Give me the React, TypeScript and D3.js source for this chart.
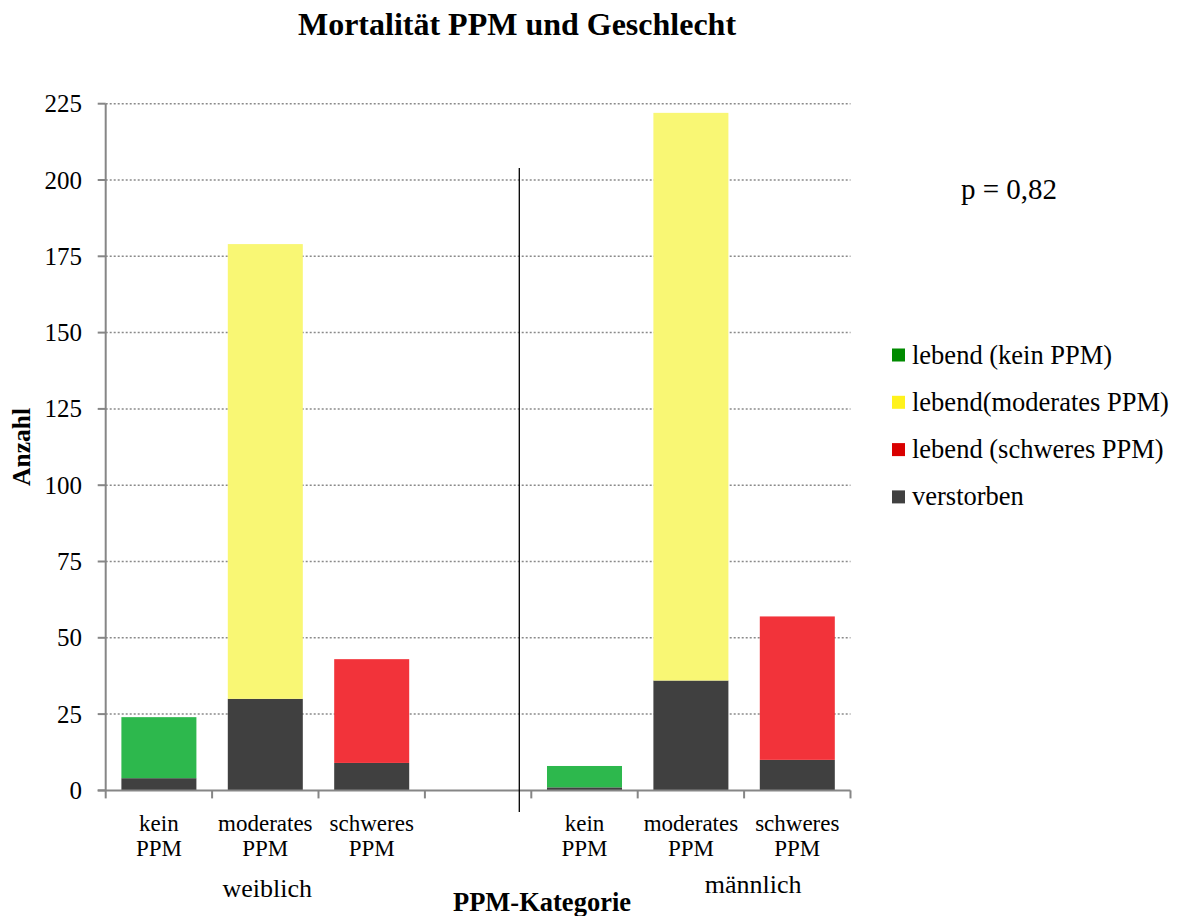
import React from 'react';
import * as d3 from 'd3';

// slots along the x axis (the 4th one is an empty spacer between the sexes)
const slots = ['w_kein', 'w_mod', 'w_schw', 'leer', 'm_kein', 'm_mod', 'm_schw'];
const slotLabels = [['kein', 'PPM'], ['moderates', 'PPM'], ['schweres', 'PPM'], [], ['kein', 'PPM'], ['moderates', 'PPM'], ['schweres', 'PPM']];

const verstorben = [4, 30, 9, 0, 1, 36, 10];
const lebendKein = [20, 0, 0, 0, 7, 0, 0];
const lebendModerat = [0, 149, 0, 0, 0, 186, 0];
const lebendSchwer = [0, 0, 34, 0, 0, 0, 47];

const seriesKeys = ['verstorben', 'lebendKein', 'lebendModerat', 'lebendSchwer'];
const barColors: Record<string, string> = {
  verstorben: '#404040',
  lebendKein: '#2DB84D',
  lebendModerat: '#F9F774',
  lebendSchwer: '#F2333A',
};

const legendItems = [
  { label: 'lebend (kein PPM)', color: '#008A00' },
  { label: 'lebend(moderates PPM)', color: '#FFF21C' },
  { label: 'lebend (schweres PPM)', color: '#D90000' },
  { label: 'verstorben', color: '#404040' },
];

const yTicks = [0, 25, 50, 75, 100, 125, 150, 175, 200, 225];

const FONT = '"Liberation Serif", "Times New Roman", serif';

export default function App() {
  const width = 1177;
  const height = 916;
  const plot = { left: 105.7, right: 850.5, top: 103.7, bottom: 790.4 };

  const x = d3.scaleBand<string>().domain(slots).range([plot.left, plot.right]).paddingInner(0.295).paddingOuter(0.1475);
  const y = d3.scaleLinear().domain([0, 225]).range([plot.bottom, plot.top]);
  const step = x.step();

  const table = slots.map((s, i) => ({
    slot: s,
    verstorben: verstorben[i],
    lebendKein: lebendKein[i],
    lebendModerat: lebendModerat[i],
    lebendSchwer: lebendSchwer[i],
  }));
  const stacked = d3.stack<any>().keys(seriesKeys)(table);

  const slotStart = (s: string) => (x(s) ?? 0) - (step - x.bandwidth()) / 2;
  const dividerX = slotStart('m_kein') - 12;

  return (
    <svg width={width} height={height} style={{ position: 'absolute', left: 0, top: 0, background: '#fff' }} fontFamily={FONT}>
      <text x={517} y={35} textAnchor="middle" fontSize={32} fontWeight="bold">Mortalität PPM und Geschlecht</text>

      {/* grid */}
      {yTicks.filter(t => t > 0).map(t => (
        <line key={t} x1={plot.left} x2={plot.right} y1={y(t)} y2={y(t)} stroke="#8a8a8a" strokeWidth={1.5} strokeDasharray="2,2" />
      ))}

      {/* bars */}
      {stacked.map(layer => (
        <g key={layer.key} fill={barColors[layer.key]}>
          {layer.map((d, i) => d[1] - d[0] > 0 ? (
            <rect key={i} x={x(slots[i])} width={x.bandwidth()} y={y(d[1])} height={y(d[0]) - y(d[1])} />
          ) : null)}
        </g>
      ))}

      {/* y axis */}
      <line x1={plot.left} x2={plot.left} y1={plot.top} y2={plot.bottom} stroke="#868686" strokeWidth={2} />
      {yTicks.map(t => (
        <g key={t}>
          <line x1={plot.left - 8} x2={plot.left} y1={y(t)} y2={y(t)} stroke="#868686" strokeWidth={2} />
          <text x={82} y={y(t) + 8.5} textAnchor="end" fontSize={25}>{t}</text>
        </g>
      ))}

      {/* x axis */}
      <line x1={plot.left - 8} x2={plot.right} y1={plot.bottom} y2={plot.bottom} stroke="#868686" strokeWidth={2} />
      {[...slots.map(slotStart), plot.right].map((px, i) => (
        <line key={i} x1={px} x2={px} y1={plot.bottom} y2={plot.bottom + 8} stroke="#868686" strokeWidth={2} />
      ))}
      {slots.map((s, i) => slotLabels[i].map((l, j) => (
        <text key={s + j} x={(x(s) ?? 0) + x.bandwidth() / 2} y={831 + j * 25} textAnchor="middle" fontSize={23}>{l}</text>
      )))}
      <text x={(x('w_mod') ?? 0) + x.bandwidth() / 2 + 2} y={897} textAnchor="middle" fontSize={26}>weiblich</text>
      <text x={slotStart('m_schw') + 9} y={893} textAnchor="middle" fontSize={26}>männlich</text>
      <text x={542} y={911} textAnchor="middle" fontSize={26.5} fontWeight="bold">PPM-Kategorie</text>

      <text transform="translate(30,447) rotate(-90)" textAnchor="middle" fontSize={25.5} fontWeight="bold">Anzahl</text>

      {/* divider between the sexes */}
      <line x1={dividerX} x2={dividerX} y1={168} y2={812} stroke="#000" strokeWidth={1.3} />

      <text x={1009} y={199} textAnchor="middle" fontSize={29}>p = 0,82</text>

      {/* legend */}
      {legendItems.map((it, i) => (
        <g key={it.label} transform={`translate(892, ${355 + i * 47.3})`}>
          <rect x={0} y={-6.5} width={13} height={13} fill={it.color} />
          <text x={20} y={8.5} fontSize={26.5}>{it.label}</text>
        </g>
      ))}
    </svg>
  );
}
